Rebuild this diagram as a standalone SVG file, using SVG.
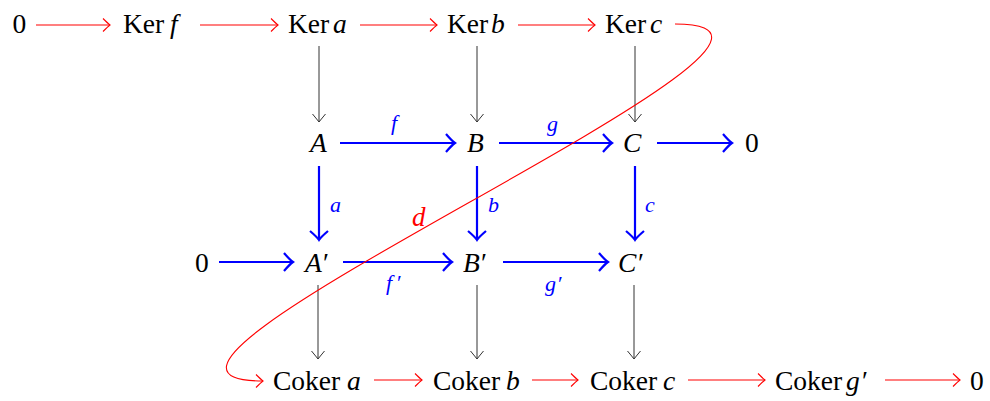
<svg xmlns="http://www.w3.org/2000/svg" width="990" height="401" viewBox="0 0 990 401">
<style>
text{font-family:'Liberation Serif','DejaVu Serif',serif}
.t{font-size:27.5px;fill:#000}
.i{font-style:italic}
.lb{font-size:22px;font-style:italic;fill:#0000ff}
.red{stroke:#ff0000;stroke-width:1.1;fill:none;marker-end:url(#hr)}
.blue{stroke:#0000ff;stroke-width:2.2;fill:none;marker-end:url(#hb)}
.blk{stroke:#333;stroke-width:1;fill:none;marker-end:url(#hk)}
</style>
<defs>
<marker id="hr" markerUnits="userSpaceOnUse" markerWidth="20" markerHeight="20" orient="auto" overflow="visible" refX="0" refY="0">
<path d="M-7,-6.5 Q-2,-1.5 0,0 Q-2,1.5 -7,6.5" fill="none" stroke="#ff0000" stroke-width="1.1"/>
</marker>
<marker id="hb" markerUnits="userSpaceOnUse" markerWidth="20" markerHeight="20" orient="auto" overflow="visible" refX="0" refY="0">
<path d="M-9,-9 Q-3,-2 0,0 Q-3,2 -9,9" fill="none" stroke="#0000ff" stroke-width="2.2"/>
</marker>
<marker id="hk" markerUnits="userSpaceOnUse" markerWidth="20" markerHeight="20" orient="auto" overflow="visible" refX="0" refY="0">
<path d="M-8,-6.5 Q-2,-1.5 0,0 Q-2,1.5 -8,6.5" fill="none" stroke="#333" stroke-width="1"/>
</marker>
</defs>

<g id="n-zero1"><text class="t" x="12.5" y="33">0</text></g>
<g id="n-kerf"><text class="t" x="123" y="33">Ker<tspan class="i" x="170">f</tspan></text></g>
<g id="n-kera"><text class="t" x="288" y="33">Ker<tspan class="i" x="333">a</tspan></text></g>
<g id="n-kerb"><text class="t" x="447" y="33">Ker<tspan class="i" x="491">b</tspan></text></g>
<g id="n-kerc"><text class="t" x="605" y="33">Ker<tspan class="i" x="650">c</tspan></text></g>

<g id="n-A"><text class="t i" x="310" y="152">A</text></g>
<g id="n-B"><text class="t i" x="467" y="152">B</text></g>
<g id="n-C"><text class="t i" x="623" y="152">C</text></g>
<g id="n-zero2"><text class="t" x="745" y="152">0</text></g>

<g id="n-zero3"><text class="t" x="195" y="272">0</text></g>
<g id="n-A2"><text class="t" x="305" y="272"><tspan class="i">A</tspan><tspan x="323">′</tspan></text></g>
<g id="n-B2"><text class="t" x="463" y="272"><tspan class="i">B</tspan><tspan x="481">′</tspan></text></g>
<g id="n-C2"><text class="t" x="618" y="272"><tspan class="i">C</tspan><tspan x="638">′</tspan></text></g>

<g id="n-cokera"><text class="t" x="273" y="390">Coker<tspan class="i" x="347">a</tspan></text></g>
<g id="n-cokerb"><text class="t" x="433" y="390">Coker<tspan class="i" x="506">b</tspan></text></g>
<g id="n-cokerc"><text class="t" x="590" y="390">Coker<tspan class="i" x="663">c</tspan></text></g>
<g id="n-cokerg"><text class="t" x="775" y="390">Coker<tspan class="i" x="846">g</tspan><tspan x="862">′</tspan></text></g>
<g id="n-zero4"><text class="t" x="970" y="390">0</text></g>

<g id="connectors">
<path class="red" d="M36,25 H110"/>
<path class="red" d="M200,25 H278"/>
<path class="red" d="M360,25 H437"/>
<path class="red" d="M518,25 H595"/>

<path class="blk" d="M319,46 V122"/>
<path class="blk" d="M477,46 V122"/>
<path class="blk" d="M635,46 V122"/>

<path class="blue" d="M340,143 H455"/>
<path class="blue" d="M499,143 H612"/>
<path class="blue" d="M657,143 H732"/>

<path class="blue" d="M319,166 V240"/>
<path class="blue" d="M477,166 V240"/>
<path class="blue" d="M635,166 V240"/>

<path class="blue" d="M219,262 H293"/>
<path class="blue" d="M343,262 H452"/>
<path class="blue" d="M503,262 H608"/>

<path class="blk" d="M318,285 V359"/>
<path class="blk" d="M477,285 V359"/>
<path class="blk" d="M634,285 V359"/>

<path class="red" d="M374,380 H422"/>
<path class="red" d="M532,380 H578"/>
<path class="red" d="M688,380 H765"/>
<path class="red" d="M885,380 H960"/>

<path class="red" d="M675,24 C895,24 43,381 263,381"/>

<text class="lb" x="391" y="130">f</text>
<text class="lb" x="547" y="131">g</text>
<text class="lb" x="330" y="212">a</text>
<text class="lb" x="488" y="212">b</text>
<text class="lb" x="645" y="212">c</text>
<text class="lb" x="386" y="290">f<tspan x="397" font-style="normal">′</tspan></text>
<text class="lb" x="545" y="291">g<tspan x="558" font-style="normal">′</tspan></text>
<text x="412" y="226" style="font-size:27px;font-style:italic;fill:#ff0000">d</text>
</g>
</svg>
